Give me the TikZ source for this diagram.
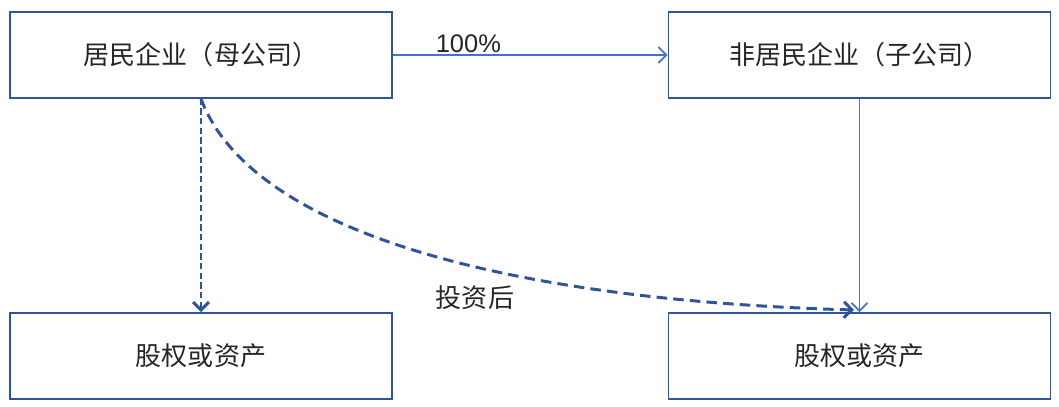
\documentclass[tikz,border=0pt]{standalone}
\usepackage{fontspec}
\setmainfont{Liberation Sans}
\newfontfamily\cjk{Noto Sans CJK SC}
\usetikzlibrary{arrows.meta,positioning}
\definecolor{boxline}{HTML}{2F5597}
\definecolor{flowline}{HTML}{4472C4}
\definecolor{ink}{HTML}{262626}

\tikzset{
  entity/.style={draw=boxline,line width=0.9pt,minimum width=7.64cm,minimum height=1.72cm,
    font=\cjk\fontsize{14.8}{17}\selectfont,text=ink},
  flow/.style={flowline,line width=1pt,-{Straight Barb[length=1.6mm,width=3.2mm]}},
  later/.style={boxline,line width=1.7pt,-{Straight Barb[length=1.6mm,width=3.2mm]}},
  tag/.style={font=\fontsize{14.5}{17}\selectfont,text=ink}
}

\begin{document}
\begin{tikzpicture}
  \useasboundingbox (0,0) rectangle (21.18,8.14);
  \node[entity] (parent) at (4.02,7.04) {居民企业（母公司）};
  \node[entity] (child) at (17.19,7.04) {非居民企业（子公司）};
  \node[entity] (assetL) at (4.02,1.02) {股权或资产};
  \node[entity] (assetR) at (17.19,1.02) {股权或资产};
  \coordinate (hit) at (17.08,1.94);
  % ownership
  \draw[flow] (parent) -- node[tag,pos=0.275,above,inner sep=1pt] (pct) {100\%} (child);
  \draw[flow] (child) -- (assetR);
  % after the investment
  \draw[later,dash pattern=on 3.5pt off 2pt] (parent) -- (assetL);
  \draw[later,dash pattern=on 6pt off 3.5pt] (parent.south) .. controls (5.0,3.54) and (10,2.14) .. (hit);
  \node[tag,font=\cjk\fontsize{14.8}{17}\selectfont] (after) at (9.5,2.18) {投资后};
\end{tikzpicture}
\end{document}
